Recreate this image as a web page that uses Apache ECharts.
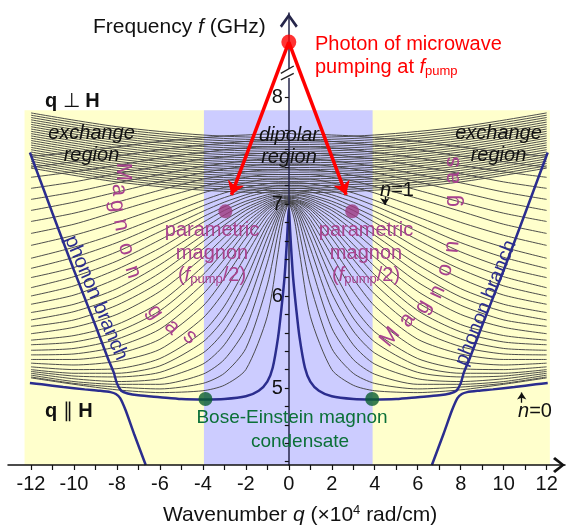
<!DOCTYPE html>
<html><head><meta charset="utf-8">
<script src="https://cdn.jsdelivr.net/npm/echarts@6/dist/echarts.min.js"></script>
<style>html,body{margin:0;padding:0;background:#fff}#c{width:566px;height:530px}</style>
</head><body><div id="c"></div>
<script>
// ---------------- data ----------------
// wavenumber stations (x 10^4 rad/cm) for the thickness-mode curves, q || H (magnon gas)
const MODE_Q = [0, 0.25, 0.5, 1, 2, 3, 4, 6, 8, 10, 12];
const MODE_F = [
[7.00,6.84,6.47,5.78,5.20,5.03,4.97,4.95,4.98,5.04,5.11],
[7.00,6.91,6.68,6.12,5.43,5.16,5.05,4.99,5.01,5.05,5.12],
[7.00,6.95,6.80,6.36,5.65,5.31,5.15,5.04,5.04,5.07,5.14],
[7.01,6.97,6.86,6.52,5.86,5.47,5.26,5.10,5.07,5.10,5.16],
[7.01,6.98,6.90,6.63,6.03,5.62,5.38,5.17,5.12,5.13,5.18],
[7.01,6.99,6.93,6.72,6.18,5.76,5.50,5.24,5.16,5.16,5.20],
[7.01,7.00,6.95,6.78,6.31,5.89,5.61,5.32,5.21,5.20,5.23],
[7.02,7.01,6.97,6.83,6.44,6.05,5.76,5.42,5.29,5.25,5.27],
[7.02,7.01,6.98,6.88,6.54,6.19,5.89,5.53,5.37,5.31,5.31],
[7.03,7.02,7.00,6.91,6.63,6.30,6.02,5.64,5.45,5.37,5.36],
[7.03,7.03,7.01,6.94,6.70,6.40,6.13,5.74,5.53,5.43,5.41],
[7.04,7.04,7.02,6.96,6.75,6.49,6.23,5.84,5.61,5.50,5.47],
[7.05,7.04,7.03,6.98,6.80,6.56,6.32,5.93,5.69,5.57,5.52],
[7.06,7.06,7.04,7.00,6.85,6.64,6.42,6.05,5.80,5.66,5.59],
[7.07,7.07,7.06,7.02,6.89,6.71,6.51,6.15,5.90,5.74,5.67],
[7.08,7.08,7.07,7.04,6.93,6.77,6.59,6.25,5.99,5.83,5.74],
[7.09,7.09,7.09,7.06,6.96,6.82,6.66,6.34,6.08,5.91,5.82],
[7.11,7.11,7.10,7.08,7.00,6.88,6.73,6.43,6.19,6.01,5.91],
[7.13,7.13,7.12,7.10,7.03,6.93,6.80,6.52,6.29,6.11,6.00],
[7.15,7.15,7.14,7.13,7.07,6.97,6.86,6.61,6.38,6.21,6.09],
[7.17,7.17,7.17,7.16,7.10,7.02,6.92,6.70,6.48,6.31,6.20],
[7.20,7.20,7.20,7.18,7.14,7.07,6.98,6.78,6.58,6.42,6.30],
[7.23,7.23,7.23,7.22,7.18,7.12,7.04,6.86,6.68,6.53,6.41],
[7.28,7.28,7.27,7.27,7.23,7.18,7.12,6.96,6.80,6.66,6.55],
[7.32,7.32,7.32,7.32,7.29,7.25,7.19,7.06,6.92,6.78,6.68],
[7.38,7.38,7.37,7.37,7.35,7.31,7.27,7.15,7.02,6.90,6.81],
[7.43,7.43,7.43,7.43,7.41,7.38,7.34,7.24,7.13,7.02,6.93],
[7.49,7.49,7.49,7.49,7.47,7.44,7.41,7.32,7.23,7.13,7.05],
[7.55,7.55,7.55,7.55,7.54,7.51,7.49,7.41,7.33,7.24,7.17],
[7.62,7.62,7.62,7.62,7.61,7.59,7.56,7.50,7.42,7.35,7.29],
[7.69,7.69,7.69,7.69,7.68,7.66,7.64,7.59,7.52,7.46,7.40],
[7.77,7.76,7.76,7.76,7.75,7.74,7.72,7.68,7.62,7.56,7.52]
];
// q ⊥ H thickness modes (dense band, rising in the exchange region)
const BAND_Q = [0, 4, 8, 12];
const BAND_F = [
[7.120,7.150,7.240,7.390],[7.145,7.175,7.265,7.415],[7.170,7.200,7.290,7.440],
[7.195,7.225,7.315,7.465],[7.220,7.250,7.340,7.490],[7.245,7.275,7.365,7.515],
[7.270,7.300,7.390,7.540],[7.295,7.325,7.415,7.565],[7.320,7.350,7.440,7.590],
[7.345,7.375,7.465,7.615],[7.370,7.400,7.490,7.640],[7.395,7.425,7.515,7.665],
[7.420,7.450,7.540,7.690],[7.445,7.475,7.565,7.715],[7.470,7.500,7.590,7.740],
[7.495,7.525,7.615,7.765],[7.520,7.550,7.640,7.790],[7.545,7.575,7.665,7.815],
[7.570,7.600,7.690,7.840],[7.595,7.625,7.715,7.865],[7.620,7.650,7.740,7.890],
[7.645,7.675,7.765,7.915],[7.670,7.700,7.790,7.940],[7.695,7.725,7.815,7.965],
[7.720,7.750,7.840,7.990]
];
// n=0, q || H branch (BEC branch, continues into the upper phonon branch)
const N0_Q = [0,0.03,0.1,0.2,0.35,0.5,0.75,1.0,1.4,2.0,3.0,3.9,5.0,6.0,7.0,7.5,7.8,8.0,8.15,8.4,9.0,10.0,11.0,12.05];
const N0_F = [6.95,6.85,6.55,6.2,5.85,5.55,5.22,5.07,4.97,4.91,4.88,4.875,4.88,4.9,4.92,4.94,4.97,5.05,5.17,5.31,5.68,6.28,6.9,7.56];
// lower phonon branch continuing into magnon
const PH_Q = [6.66,7.2,7.6,7.85,8.05,8.3,8.8,9.5,10.5,11.5,12.05];
const PH_F = [4.163,4.5,4.76,4.89,4.935,4.955,4.97,4.985,5.01,5.04,5.055];
// markers (frequency values above the axis break are on the drawn scale)
const PUMP = [[0, 8.76]];
const PARAM = [[-2.95, 6.92], [2.95, 6.92]];
const BEC = [[-3.88, 4.88], [3.88, 4.88]];
const ARROW_END = [[-2.67, 7.10], [2.67, 7.10]];
const ARROW_N1 = [[4.47, 7.08], [4.47, 6.99]];
const ARROW_N0 = [[10.84, 4.84], [10.84, 4.95]];
const BREAK_A = [[-0.37, 8.42], [0.23, 8.50]];
const BREAK_B = [[-0.37, 8.35], [0.23, 8.42]];
const BREAK_GAP = [[0, 8.37], [0, 8.47]];
// regions
const REGION_YELLOW = [-12.3, 12.15];
const REGION_BLUE = [-3.95, 3.9];
const REGION_TOP = 8.02;
// axes
const X_TICKS = [-12,-11,-10,-9,-8,-7,-6,-5,-4,-3,-2,-1,0,1,2,3,4,5,6,7,8,9,10,11,12];
const X_LABELS = [-12,-10,-8,-6,-4,-2,0,2,4,6,8,10,12];
const Y_TICKS = [4.2,4.4,4.6,4.8,5,5.2,5.4,5.6,5.8,6,6.2,6.4,6.6,6.8,7,7.2,7.4,7.6,7.8,8.163];
const Y_LABELS = [5,6,7,8.163];
const Y_LABEL_TEXT = ['5','6','7','8'];

// ---------------- layout ----------------
const YMIN = 4.163, YMAX = 9.076, XMIN = -13.07, XMAX = 12.855;
const GRID = { left: 8, right: 1, top: 13, bottom: 65 };
const GRID_W = 566 - GRID.left - GRID.right;
const Y_AXIS_OFFSET = -((0 - XMIN) / (XMAX - XMIN) * GRID_W);
const FONT = "'Liberation Sans', Arial, Helvetica, sans-serif";
const GRAY = '#454545', BLUE = '#2b2d8e', RED = '#ff0000', PURPLE = '#a8428e', GREEN = '#0b7038';

function mirror(qs, fs) {
  const out = [];
  for (let i = qs.length - 1; i >= 0; i--) if (qs[i] !== 0) out.push([-qs[i], fs[i]]);
  for (let i = 0; i < qs.length; i++) out.push([qs[i], fs[i]]);
  return out;
}
const series = [];
series.push({
  type: 'line', data: [[0, 6]], symbol: 'none', lineStyle: { opacity: 0 }, silent: true, z: 1,
  markArea: { silent: true, label: { show: false }, data: [
    [{ xAxis: REGION_YELLOW[0], yAxis: YMIN, itemStyle: { color: '#ffffcc', opacity: 1 } }, { xAxis: REGION_YELLOW[1], yAxis: REGION_TOP }],
    [{ xAxis: REGION_BLUE[0], yAxis: YMIN, itemStyle: { color: '#ccccff', opacity: 1 } }, { xAxis: REGION_BLUE[1], yAxis: REGION_TOP }]
  ] }
});
BAND_F.forEach(r => series.push({ type: 'line', data: mirror(BAND_Q, r), smooth: 0.3, symbol: 'none',
  lineStyle: { color: GRAY, width: 0.95 }, silent: true, z: 2 }));
MODE_F.forEach(r => series.push({ type: 'line', data: mirror(MODE_Q, r), smooth: 0.25, symbol: 'none',
  lineStyle: { color: GRAY, width: 0.95 }, silent: true, z: 2 }));
series.push({ type: 'line', data: mirror(N0_Q, N0_F), smooth: 0.25, symbol: 'none',
  lineStyle: { color: BLUE, width: 2.5 }, silent: true, z: 3 });
series.push({ type: 'line', data: PH_Q.map((q, i) => [q, PH_F[i]]), smooth: 0.25, symbol: 'none',
  lineStyle: { color: BLUE, width: 2.5 }, silent: true, z: 3 });
series.push({ type: 'line', data: PH_Q.map((q, i) => [-q, PH_F[i]]), smooth: 0.25, symbol: 'none',
  lineStyle: { color: BLUE, width: 2.5 }, silent: true, z: 3 });
// break marks
series.push({ type: 'lines', coordinateSystem: 'cartesian2d', data: [{ coords: BREAK_GAP }],
  lineStyle: { color: '#fff', width: 4, opacity: 1 }, silent: true, z: 6 });
series.push({ type: 'lines', coordinateSystem: 'cartesian2d', data: [{ coords: BREAK_A }, { coords: BREAK_B }],
  lineStyle: { color: '#222', width: 1.4, opacity: 1 }, silent: true, z: 7 });
// dots
series.push({ type: 'scatter', data: PUMP, symbolSize: 15, itemStyle: { color: RED }, silent: true, z: 8 });
series.push({ type: 'scatter', data: PARAM, symbolSize: 14, itemStyle: { color: '#9c3a80' }, silent: true, z: 8 });
series.push({ type: 'scatter', data: BEC, symbolSize: 14, itemStyle: { color: '#0a5e2e' }, silent: true, z: 8 });
// arrows
series.push({ type: 'lines', coordinateSystem: 'cartesian2d',
  data: ARROW_END.map(e => ({ coords: [PUMP[0], e] })), symbol: ['none', 'arrow'], symbolSize: 13,
  lineStyle: { color: RED, width: 3.5, opacity: 1, curveness: 0 }, itemStyle: { color: RED }, silent: true, z: 9 });
series.push({ type: 'lines', coordinateSystem: 'cartesian2d',
  data: [{ coords: ARROW_N1 }, { coords: ARROW_N0 }], symbol: ['none', 'arrow'], symbolSize: 7,
  lineStyle: { color: '#111', width: 1.3, opacity: 1, curveness: 0 }, silent: true, z: 9 });

const CHEV_Y = 'path://M9,0 L18,12.5 L16,14.5 L9,4.5 L2,14.5 L0,12.5 Z';
const CHEV_X = 'path://M8,0 L16,10 L14,12 L8,4 L2,12 L0,10 Z';

function T(x, y, text, o) {
  o = o || {};
  const col = o.color || '#111';
  return { type: 'text', x: x, y: y, rotation: (o.rot || 0) * Math.PI / 180, z: 100, silent: true,
    style: { text: text, fill: col,
      font: (o.italic ? 'italic ' : '') + (o.bold ? 'bold ' : '') + (o.size || 20) + 'px ' + FONT,
      align: o.align || 'center', verticalAlign: 'middle', rich: o.rich } };
}
function rich(col, size) {
  size = size || 20;
  return {
    a: { fontSize: size, fontFamily: FONT, fill: col, lineHeight: size + 2 },
    i: { fontSize: size, fontFamily: FONT, fontStyle: 'italic', fill: col, lineHeight: size + 2 },
    b: { fontSize: size, fontFamily: FONT, fontWeight: 'bold', fill: col, lineHeight: size + 2 },
    s: { fontSize: 13, fontFamily: FONT, fill: col, verticalAlign: 'bottom', lineHeight: 13 },
    u: { fontSize: 13, fontFamily: FONT, fill: col, verticalAlign: 'top', lineHeight: 13 }
  };
}
const graphics = [
  T(93, 27, '{a|Frequency }{i|f}{a| (GHz)}', { align: 'left', rich: rich('#111', 21) }),
  T(163, 515, '{a|Wavenumber }{i|q}{a| (\u00d710}{u|4}{a| rad/cm)}', { align: 'left', rich: rich('#111', 21) }),
  T(315, 44, 'Photon of microwave', { align: 'left', color: RED }),
  T(315, 67, '{a|pumping at }{i|f}{s|pump}', { align: 'left', rich: rich(RED) }),
  T(45, 101, '{b|q} {a|\u22a5} {b|H}', { align: 'left', rich: rich('#111', 20) }),
  T(45, 411, '{b|q} {a|\u2225} {b|H}', { align: 'left', rich: rich('#111', 20) }),
  T(91.5, 133, 'exchange', { italic: true }), T(91.5, 155, 'region', { italic: true }),
  T(498.5, 133, 'exchange', { italic: true }), T(498.5, 155, 'region', { italic: true }),
  T(289, 135, 'dipolar', { italic: true }), T(289, 157, 'region', { italic: true }),
  T(397, 190, '{i|n}{a|=1}', { rich: rich('#111') }),
  T(535, 411, '{i|n}{a|=0}', { rich: rich('#111') }),
  T(212, 230, 'parametric', { color: PURPLE }), T(212, 253, 'magnon', { color: PURPLE }),
  T(212, 275, '{a|(}{i|f}{s|pump}{a|/2)}', { rich: rich(PURPLE) }),
  T(366, 230, 'parametric', { color: PURPLE }), T(366, 253, 'magnon', { color: PURPLE }),
  T(366, 275, '{a|(}{i|f}{s|pump}{a|/2)}', { rich: rich(PURPLE) }),
  T(292, 418, 'Bose-Einstein magnon', { color: GREEN, size: 19 }),
  T(300, 442, 'condensate', { color: GREEN, size: 19 }),
  T(96, 298, 'phonon branch', { color: BLUE, rot: -67 }),
  T(486, 303, 'phonon branch', { color: BLUE, rot: 68 })
];
const MG_LEFT = [['M',123,172,-90],['a',119,190,-88],['g',117,206,-85],['n',121,225,-80],['o',126,249,-76],['n',133,272,-72],['g',155,312,-55],['a',172,327,-45],['s',190,337,-40]];
const MG_RIGHT = [['M',390,337,50],['a',407,320,55],['g',423,307,60],['n',437,292,65],['o',445,270,75],['n',452,247,85],['g',453,201,90],['a',453,178,90],['s',453,162,90]];
MG_LEFT.concat(MG_RIGHT).forEach(l => graphics.push(T(l[1], l[2], l[0], { color: PURPLE, size: 22, rot: l[3] })));

const chart = echarts.init(document.getElementById('c'), null, { renderer: 'canvas', width: 566, height: 530 });
chart.setOption({
  animation: false,
  backgroundColor: '#fff',
  grid: { left: GRID.left, right: GRID.right, top: GRID.top, bottom: GRID.bottom, containLabel: false, outerBoundsMode: 'none' },
  xAxis: {
    type: 'value', min: XMIN, max: XMAX, z: 4,
    axisLine: { onZero: false, lineStyle: { color: '#111', width: 1.5 }, symbol: ['none', CHEV_X], symbolSize: [16, 12], symbolOffset: [0, -6] },
    axisTick: { customValues: X_TICKS, length: 5, lineStyle: { color: '#111', width: 1.2 } },
    axisLabel: { customValues: X_LABELS, fontSize: 20, color: '#111', fontFamily: FONT, margin: 9 },
    splitLine: { show: false }
  },
  yAxis: {
    type: 'value', min: YMIN, max: YMAX, z: 4, position: 'left', offset: Y_AXIS_OFFSET,
    axisLine: { onZero: false, lineStyle: { color: '#26264a', width: 1.5 }, symbol: ['none', CHEV_Y], symbolSize: [18, 15], symbolOffset: [0, -7.5] },
    axisTick: { customValues: Y_TICKS, length: 4, lineStyle: { color: '#111', width: 1.2 } },
    axisLabel: { customValues: Y_LABELS, fontSize: 20, color: '#111', fontFamily: FONT, margin: 6,
      formatter: function (v) { for (let i = 0; i < Y_LABELS.length; i++) if (Math.abs(Y_LABELS[i] - v) < 0.01) return Y_LABEL_TEXT[i]; return ''; } },
    splitLine: { show: false }
  },
  series: series,
  graphic: graphics
});
</script></body></html>
